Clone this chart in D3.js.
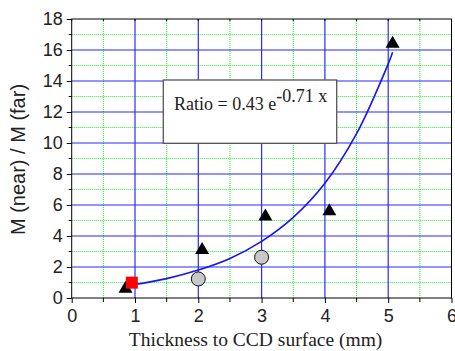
<!DOCTYPE html>
<html>
<head>
<meta charset="utf-8">
<script src="https://cdn.jsdelivr.net/npm/d3@7"></script>
<style>
  body { margin: 0; background: #fff; }
  svg { display: block; }
</style>
</head>
<body>
<svg id="chart" width="455" height="351"></svg>
<script>
// data
const triangles = [[0.85, 0.7], [2.06, 3.2], [3.06, 5.35], [4.07, 5.7], [5.07, 16.5]];
const circles = [[2.0, 1.23], [3.0, 2.63]];
const squares = [[0.95, 0.99]];
// fitted curve, read at a few x positions
const fitCurve = [[0.97, 0.85], [1.5, 1.25], [2, 1.8], [2.5, 2.55], [3, 3.65], [3.5, 5.2],
                  [4, 7.4], [4.5, 10.6], [5, 15.1], [5.07, 15.85]];
const xTicks = [0, 1, 2, 3, 4, 5, 6];
const yTicks = [0, 2, 4, 6, 8, 10, 12, 14, 16, 18];
const xMinor = [0.5, 1.5, 2.5, 3.5, 4.5, 5.5];
const yMinor = [1, 3, 5, 7, 9, 11, 13, 15, 17];

const margin = { top: 19, right: 3.5, bottom: 53, left: 71.7 };
const W = 455, H = 351;
const width = W - margin.left - margin.right;
const height = H - margin.top - margin.bottom;

const x = d3.scaleLinear().domain([0, 6]).range([0, width]);
const y = d3.scaleLinear().domain([0, 18]).range([height, 0]);

const svg = d3.select('#chart');
const g = svg.append('g').attr('transform', `translate(${margin.left},${margin.top})`);

// minor grid (green dotted)
g.selectAll('.gx-minor').data(xMinor).join('line')
  .attr('x1', d => x(d)).attr('x2', d => x(d)).attr('y1', 0).attr('y2', height)
  .attr('stroke', '#22ee22').attr('stroke-width', 1).attr('stroke-dasharray', '1,1');
g.selectAll('.gy-minor').data(yMinor).join('line')
  .attr('x1', 0).attr('x2', width).attr('y1', d => y(d)).attr('y2', d => y(d))
  .attr('stroke', '#22ee22').attr('stroke-width', 1).attr('stroke-dasharray', '1,1');

// major grid (blue)
g.selectAll('.gx-major').data(xTicks.slice(1, -1)).join('line')
  .attr('x1', d => x(d)).attr('x2', d => x(d)).attr('y1', 0).attr('y2', height)
  .attr('stroke', '#2a2aff').attr('stroke-width', 1.2);
g.selectAll('.gy-major').data(yTicks.slice(1, -1)).join('line')
  .attr('x1', 0).attr('x2', width).attr('y1', d => y(d)).attr('y2', d => y(d))
  .attr('stroke', '#2a2aff').attr('stroke-width', 1.2);

// text box
g.append('rect')
  .attr('x', 163.3 - margin.left).attr('y', 80 - margin.top)
  .attr('width', 173.4).attr('height', 63.3)
  .attr('fill', '#fff').attr('stroke', '#555').attr('stroke-width', 1.3);

const eq = g.append('text')
  .attr('x', 174 - margin.left).attr('y', 109.5 - margin.top)
  .style('font-family', '"Liberation Serif", "Times New Roman", serif')
  .style('font-size', '18px').attr('fill', '#222');
eq.append('tspan').text('Ratio = 0.43 e');
eq.append('tspan').attr('dy', -7.5).text('-0.71 x');

// fitted curve
const line = d3.line().x(d => x(d[0])).y(d => y(d[1])).curve(d3.curveCatmullRom.alpha(0.5));
g.append('path').datum(fitCurve)
  .attr('fill', 'none').attr('stroke', '#1515f0').attr('stroke-width', 1.6)
  .attr('d', line);

// markers
g.selectAll('.tri').data(triangles).join('path')
  .attr('transform', d => `translate(${x(d[0])},${y(d[1])})`)
  .attr('d', 'M0,-6.5L7,5.5L-7,5.5Z').attr('fill', '#000');
g.selectAll('.circ').data(circles).join('circle')
  .attr('cx', d => x(d[0])).attr('cy', d => y(d[1])).attr('r', 7)
  .attr('fill', '#c8c8c8').attr('stroke', '#111').attr('stroke-width', 1);
g.selectAll('.sq').data(squares).join('rect')
  .attr('x', d => x(d[0]) - 6).attr('y', d => y(d[1]) - 6)
  .attr('width', 12).attr('height', 12).attr('fill', '#ff0000');

// frame
g.append('rect').attr('width', width).attr('height', height)
  .attr('fill', 'none').attr('stroke', '#000').attr('stroke-width', 1);

// axes
const axFont = '"Liberation Sans", Arial, Helvetica, sans-serif';
const xAxis = g.append('g').attr('transform', `translate(0,${height})`)
  .call(d3.axisBottom(x).tickValues(xTicks).tickFormat(d3.format('d')).tickSize(5).tickPadding(6));
const yAxis = g.append('g')
  .call(d3.axisLeft(y).tickValues(yTicks).tickFormat(d3.format('d')).tickSize(5).tickPadding(4));
[xAxis, yAxis].forEach(a => {
  a.select('.domain').remove();
  a.selectAll('text').style('font-family', axFont).style('font-size', '18px').attr('fill', '#222');
  a.selectAll('line').attr('stroke', '#000');
});
// minor ticks
g.selectAll('.xmt').data(xMinor).join('line')
  .attr('x1', d => x(d)).attr('x2', d => x(d)).attr('y1', height).attr('y2', height + 4)
  .attr('stroke', '#000');
g.selectAll('.ymt').data(yMinor).join('line')
  .attr('x1', -3).attr('x2', 0).attr('y1', d => y(d)).attr('y2', d => y(d))
  .attr('stroke', '#000');
// small ticks on top edge
g.selectAll('.xtt').data(xTicks.concat(xMinor)).join('line')
  .attr('x1', d => x(d)).attr('x2', d => x(d)).attr('y1', 0).attr('y2', 2)
  .attr('stroke', '#000');

// axis titles
svg.append('text')
  .attr('x', margin.left + width / 2 - 6).attr('y', 346)
  .attr('text-anchor', 'middle')
  .style('font-family', '"Liberation Serif", "Times New Roman", serif')
  .style('font-size', '19.5px').attr('fill', '#222')
  .text('Thickness to CCD surface (mm)');

svg.append('text')
  .attr('transform', `translate(25,${margin.top + height / 2 + 1}) rotate(-90)`)
  .attr('text-anchor', 'middle')
  .style('font-family', axFont)
  .style('font-size', '20px').attr('fill', '#222')
  .text('M (near) / M (far)');
</script>
</body>
</html>
